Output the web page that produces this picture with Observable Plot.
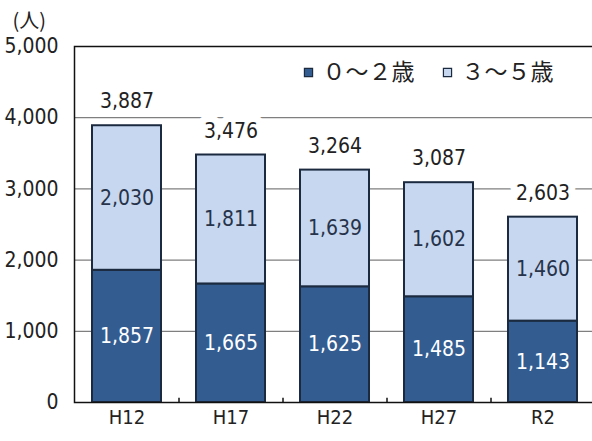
<!DOCTYPE html>
<html>
<head>
<meta charset="utf-8">
<script src="https://cdn.jsdelivr.net/npm/d3@7"></script>
<script src="https://cdn.jsdelivr.net/npm/@observablehq/plot@0.6"></script>
<style>
  body { margin: 0; background: #fff; overflow: hidden; }
  svg { overflow: hidden; }
</style>
</head>
<body>
<div id="chart"></div>
<script>
const categories = ["H12", "H17", "H22", "H27", "R2"];
const series = ["0〜2歳", "3〜5歳"];
const age0to2 = [1857, 1665, 1625, 1485, 1143];
const age3to5 = [2030, 1811, 1639, 1602, 1460];
const totals = [3887, 3476, 3264, 3087, 2603];
const yTicks = [0, 1000, 2000, 3000, 4000, 5000];
const gridTicks = [1000, 2000, 3000, 4000];
const legendLabels = ["０〜２歳", "３〜５歳"];

const colors = ["#335c91", "#c6d7ef"];
const border = "#1c2a3f";
const numFont = "'Liberation Sans Narrow', 'DejaVu Sans Condensed', sans-serif";
const cjkFont = "'Noto Sans CJK JP', sans-serif";

const rows = [];
categories.forEach((c, i) => {
  rows.push({cat: c, series: series[0], value: age0to2[i]});
  rows.push({cat: c, series: series[1], value: age3to5[i]});
});
const totalRows = categories.map((c, i) => ({cat: c, total: totals[i]}));
const fmt = d3.format(",");

const chart = Plot.plot({
  width: 592,
  height: 441,
  marginLeft: 74,
  marginRight: -3,
  marginTop: 46,
  marginBottom: 39,
  style: {fontFamily: numFont, fontSize: "20px", color: "#222", background: "#fff"},
  x: {domain: categories, paddingInner: 0.337, paddingOuter: 0.17, label: null},
  y: {domain: [0, 5000], label: null},
  color: {domain: series, range: colors},
  marks: [
    Plot.ruleY(gridTicks, {stroke: "#7f7f7f", strokeWidth: 1.2}),
    Plot.barY(rows, Plot.stackY({x: "cat", y: "value", fill: "series", stroke: border, strokeWidth: 2})),
    Plot.text(rows, Plot.stackY({
      x: "cat", y: "value", z: "series",
      text: d => d.series === series[0] ? fmt(d.value) : "",
      fill: "white", fontSize: 21, fontFamily: numFont
    })),
    Plot.text(rows, Plot.stackY({
      x: "cat", y: "value", z: "series",
      text: d => d.series === series[1] ? fmt(d.value) : "",
      fill: "#26334a", fontSize: 21, fontFamily: numFont
    })),
    Plot.text(totalRows, {
      x: "cat", y: "total", text: d => fmt(d.total), dy: -24,
      fill: "#222", stroke: "white", strokeWidth: 14, paintOrder: "stroke",
      fontSize: 21, fontFamily: numFont
    }),
    Plot.ruleX(categories.slice(0, -1), {
      x: d => d, dx: 52, y1: 0, y2: 60, stroke: "#111", strokeWidth: 1.5
    }),
    Plot.frame({stroke: "#111", strokeWidth: 1.5}),
    Plot.axisY({ticks: yTicks, tickSize: 0, tickPadding: 16, tickFormat: d => fmt(d), fontSize: 21, label: null}),
    Plot.axisX({tickSize: 0, tickPadding: 7, fontSize: 20, label: null}),
    Plot.text(["(人)"], {frameAnchor: "top-left", dx: -62, dy: -25, textAnchor: "start", lineAnchor: "middle", fontFamily: cjkFont, fontSize: 20, fill: "#222"}),
    Plot.dot([0], {frameAnchor: "top-left", dx: 234, dy: 26, symbol: "square", r: 4.6, fill: colors[0], stroke: border, strokeWidth: 1.2}),
    Plot.dot([0], {frameAnchor: "top-left", dx: 373, dy: 26, symbol: "square", r: 4.6, fill: colors[1], stroke: border, strokeWidth: 1.2}),
    Plot.text([legendLabels[0]], {frameAnchor: "top-left", dx: 248, dy: 26, textAnchor: "start", lineAnchor: "middle", fontFamily: cjkFont, fontSize: 23, fill: "#222"}),
    Plot.text([legendLabels[1]], {frameAnchor: "top-left", dx: 387, dy: 26, textAnchor: "start", lineAnchor: "middle", fontFamily: cjkFont, fontSize: 23, fill: "#222"})
  ]
});
document.getElementById("chart").appendChild(chart);
</script>
</body>
</html>
